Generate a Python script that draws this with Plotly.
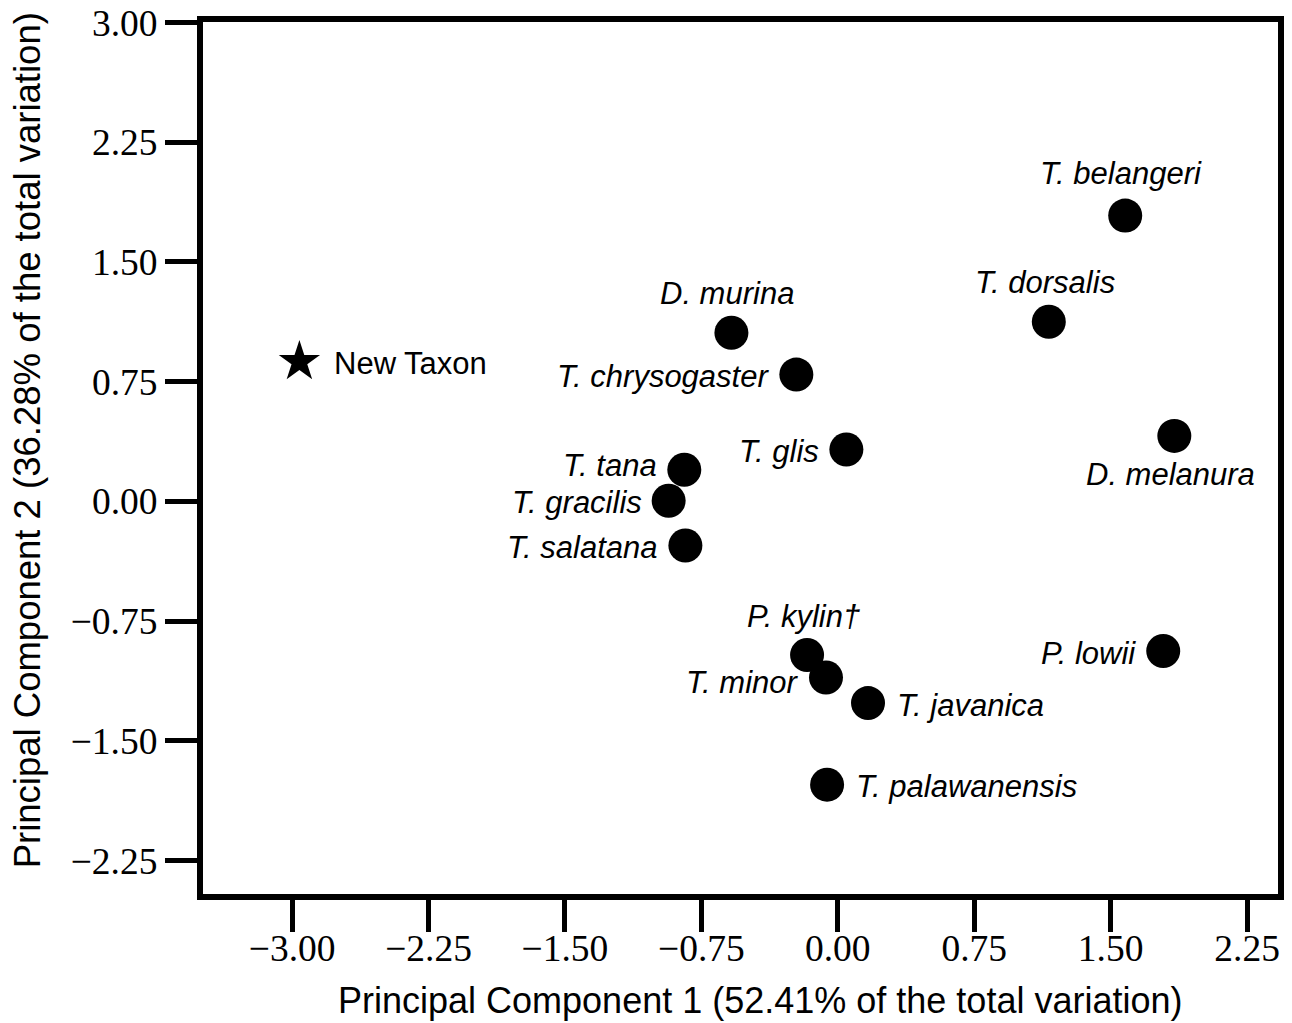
import plotly.graph_objects as go

# PCA scores
TAXA = [
    "T. belangeri", "T. dorsalis", "D. melanura", "D. murina", "T. chrysogaster",
    "T. glis", "T. tana", "T. gracilis", "T. salatana", "P. kylin†",
    "T. minor", "T. javanica", "T. palawanensis", "P. lowii",
]
PC1 = [1.58, 1.16, 1.85, -0.585, -0.228, 0.047, -0.844, -0.93, -0.838, -0.169,
       -0.065, 0.166, -0.059, 1.789]
PC2 = [1.79, 1.125, 0.41, 1.056, 0.794, 0.325, 0.198, 0.004, -0.277, -0.963,
       -1.104, -1.264, -1.775, -0.938]

NEW_NAME = "New Taxon"
NEW_PC1 = [-2.96]
NEW_PC2 = [0.875]

TICKS = [-3.0, -2.25, -1.5, -0.75, 0.0, 0.75, 1.5, 2.25, 3.0]

# where each label sits relative to its dot
SIDE = ["above", "above", "below", "above", "left", "left", "left", "left", "left",
        "above", "left", "right", "right", "left"]
# small vertical nudges (px) so crowded labels don't collide
NUDGE = {"T. tana": 6, "T. minor": -3, "T. belangeri": 3}

SANS = "Liberation Sans, Arial, sans-serif"
SERIF = "Liberation Serif, Times New Roman, serif"
BLACK = "#000000"


def tick_text(v):
    s = f"{abs(v):.2f}"
    return ("\u2212" + s) if v < 0 else s


fig = go.Figure()
fig.add_trace(go.Scatter(
    x=PC1, y=PC2, mode="markers",
    marker=dict(size=34, color=BLACK, line=dict(width=0)),
    hoverinfo="text", text=TAXA,
))
fig.add_trace(go.Scatter(
    x=NEW_PC1, y=NEW_PC2, mode="markers",
    marker=dict(symbol="star", size=31, color=BLACK, line=dict(width=0)),
    hoverinfo="text", text=[NEW_NAME],
))

ann = []
shift = {
    "above": dict(xanchor="center", yanchor="middle", xshift=-4, yshift=39),
    "below": dict(xanchor="center", yanchor="middle", xshift=-4, yshift=-39),
    "left": dict(xanchor="right", yanchor="middle", xshift=-25, yshift=-2),
    "right": dict(xanchor="left", yanchor="middle", xshift=27, yshift=-2),
}
for name, x, y, side in zip(TAXA, PC1, PC2, SIDE):
    pos = dict(shift[side])
    pos["yshift"] += NUDGE.get(name, 0)
    ann.append(dict(
        x=x, y=y, xref="x", yref="y", text=f"<i>{name}</i>", showarrow=False,
        font=dict(family=SANS, size=31, color=BLACK), **pos,
    ))
ann.append(dict(
    x=NEW_PC1[0], y=NEW_PC2[0], xref="x", yref="y", text=NEW_NAME, showarrow=False,
    font=dict(family=SANS, size=31, color=BLACK),
    xanchor="left", yanchor="middle", xshift=33, yshift=-2,
))

# axis titles
ann.append(dict(
    x=0.518, y=-0.122, xref="paper", yref="paper", showarrow=False,
    text="Principal Component 1 (52.41% of the total variation)",
    font=dict(family=SANS, size=36, color=BLACK), xanchor="center", yanchor="middle",
))
ann.append(dict(
    x=-0.163, y=0.52, xref="paper", yref="paper", showarrow=False, textangle=-90,
    text="Principal Component 2 (36.28% of the total variation)",
    font=dict(family=SANS, size=36.5, color=BLACK), xanchor="center", yanchor="middle",
))

axis_common = dict(
    showgrid=False, zeroline=False, showline=True, linecolor=BLACK, linewidth=6,
    mirror=True, ticks="outside", ticklen=32, tickwidth=5, tickcolor=BLACK,
    tickvals=TICKS, ticktext=[tick_text(v) for v in TICKS],
    tickfont=dict(family=SERIF, size=37.5, color=BLACK), automargin=False,
)

fig.update_layout(
    width=1292, height=1023,
    paper_bgcolor="white", plot_bgcolor="white",
    showlegend=False,
    margin=dict(l=203, r=14, t=22, b=129, autoexpand=False),
    xaxis=dict(range=[-3.49, 2.42], ticklabelstandoff=-16, **axis_common),
    yaxis=dict(range=[-2.46, 3.003], **axis_common),
    annotations=ann,
)

# drop the default 8px page margin so the figure fills the window
fig.write_html(
    "out.html",
    config={"displayModeBar": False},
    post_script="document.body.style.margin='0';",
)
